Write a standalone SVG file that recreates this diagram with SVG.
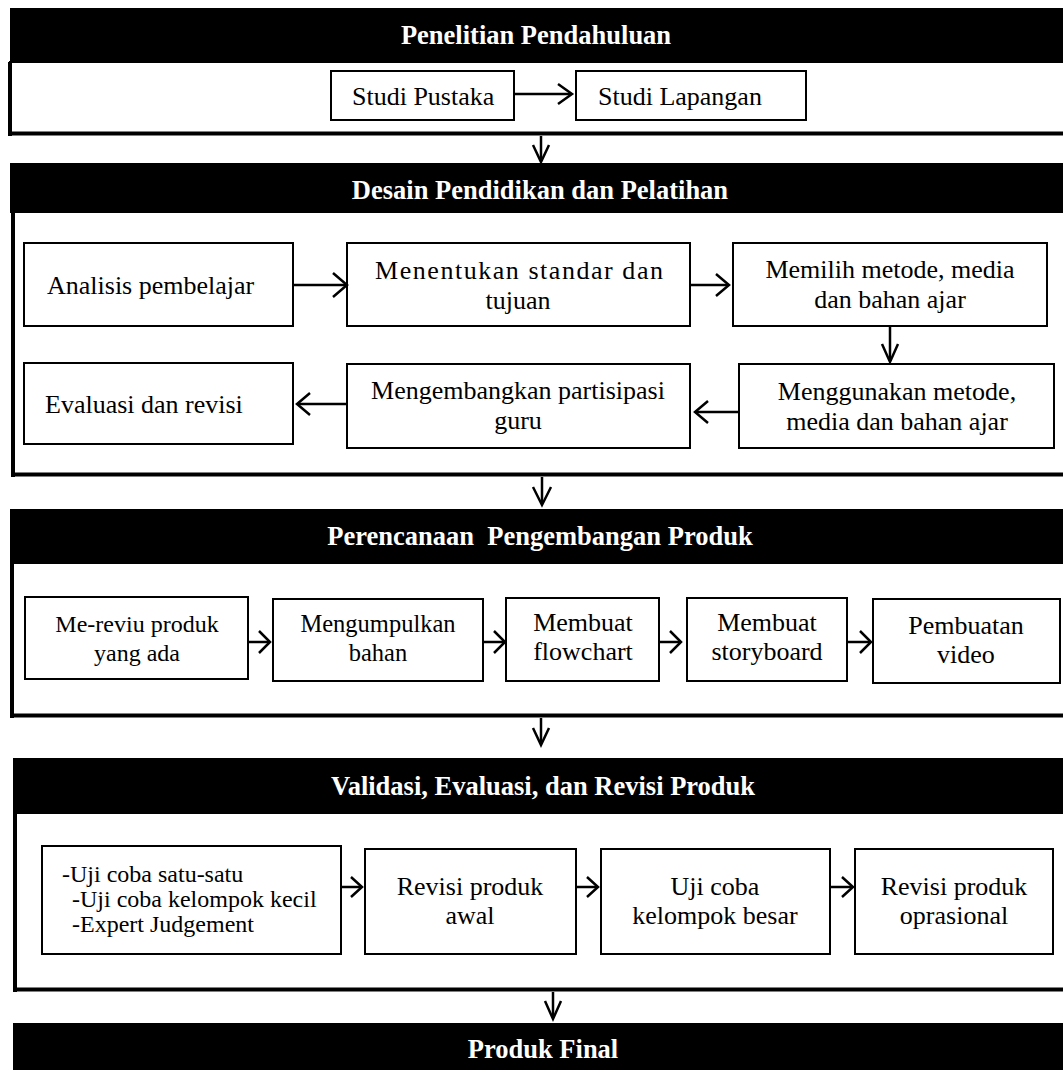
<svg xmlns="http://www.w3.org/2000/svg" width="1063" height="1070" viewBox="0 0 1063 1070">
<style>
.hd{fill:#000}
.body{fill:#fff;stroke:#000;stroke-width:2}
.thick{stroke:#000;stroke-width:4;fill:none}
.box{fill:#fff;stroke:#000;stroke-width:2}
.ht{font-family:"Liberation Serif","Times New Roman",serif;font-size:26.5px;font-weight:bold;fill:#fff;text-anchor:middle}
.t{font-family:"Liberation Serif","Times New Roman",serif;font-size:26px;fill:#000}
.c{text-anchor:middle}
.s24{font-size:24px}
.ln{stroke:#000;stroke-width:2.5;fill:none}
.ah{stroke:#000;stroke-width:2.5;fill:none;stroke-linejoin:miter}
</style>
<rect width="1063" height="1070" fill="#fff"/>

<!-- Section 1 -->
<g id="sec1">
<rect class="body" x="10" y="62" width="1070" height="72"/>
<line class="thick" x1="10" y1="62" x2="10" y2="136"/>
<line class="thick" x1="8" y1="133.5" x2="1063" y2="133.5"/>
<rect class="hd" x="10" y="8" width="1060" height="55"/>
<text class="ht" x="536" y="44">Penelitian Pendahuluan</text>
</g>
<g id="studi-pustaka">
<rect class="box" x="331" y="71" width="183" height="49"/>
<text class="t" x="352" y="105">Studi Pustaka</text>
</g>
<g id="studi-lapangan">
<rect class="box" x="576" y="71" width="230" height="49"/>
<text class="t" x="598" y="105">Studi Lapangan</text>
</g>

<!-- Section 2 -->
<g id="sec2">
<rect class="body" x="12" y="212" width="1070" height="263"/>
<line class="thick" x1="13" y1="212" x2="13" y2="477"/>
<line class="thick" x1="11" y1="474.5" x2="1063" y2="474.5"/>
<rect class="hd" x="10" y="163" width="1060" height="50"/>
<text class="ht" x="540" y="199">Desain Pendidikan dan Pelatihan</text>
</g>
<g id="analisis">
<rect class="box" x="24" y="243" width="269" height="83"/>
<text class="t" x="47" y="294">Analisis pembelajar</text>
</g>
<g id="menentukan">
<rect class="box" x="347" y="243" width="343" height="83"/>
<text class="t" x="375" y="279" textLength="288" lengthAdjust="spacing">Menentukan standar dan</text>
<text class="t c" x="518" y="309">tujuan</text>
</g>
<g id="memilih">
<rect class="box" x="733" y="243" width="314" height="83"/>
<text class="t c" x="890" y="278">Memilih metode, media</text>
<text class="t c" x="890" y="308">dan bahan ajar</text>
</g>
<g id="menggunakan">
<rect class="box" x="739" y="364" width="315" height="84"/>
<text class="t c" x="897" y="400">Menggunakan metode,</text>
<text class="t c" x="897" y="430">media dan bahan ajar</text>
</g>
<g id="mengembangkan">
<rect class="box" x="347" y="364" width="343" height="84"/>
<text class="t c" x="518" y="399">Mengembangkan partisipasi</text>
<text class="t c" x="518" y="429">guru</text>
</g>
<g id="evaluasi">
<rect class="box" x="24" y="363" width="269" height="81"/>
<text class="t" x="45" y="413">Evaluasi dan revisi</text>
</g>

<!-- Section 3 -->
<g id="sec3">
<rect class="body" x="12" y="563" width="1070" height="153"/>
<line class="thick" x1="12" y1="563" x2="12" y2="718"/>
<line class="thick" x1="10" y1="715.5" x2="1063" y2="715.5"/>
<rect class="hd" x="10" y="509" width="1060" height="55"/>
<text class="ht" x="540" y="545" xml:space="preserve">Perencanaan  Pengembangan Produk</text>
</g>
<g id="mereviu">
<rect class="box" x="25" y="597" width="223" height="82"/>
<text class="t c s24" x="137" y="632">Me-reviu produk</text>
<text class="t c s24" x="137" y="661">yang ada</text>
</g>
<g id="mengumpulkan">
<rect class="box" x="273" y="599" width="210" height="82"/>
<text class="t c" x="378" y="632" style="font-size:24.5px">Mengumpulkan</text>
<text class="t c" x="378" y="661" style="font-size:24.5px">bahan</text>
</g>
<g id="flowchart">
<rect class="box" x="506" y="598" width="153" height="83"/>
<text class="t c" x="583" y="631">Membuat</text>
<text class="t c" x="583" y="660">flowchart</text>
</g>
<g id="storyboard">
<rect class="box" x="687" y="598" width="160" height="83"/>
<text class="t c" x="767" y="631">Membuat</text>
<text class="t c" x="767" y="660">storyboard</text>
</g>
<g id="pembuatan">
<rect class="box" x="873" y="599" width="187" height="84"/>
<text class="t c" x="966" y="634">Pembuatan</text>
<text class="t c" x="966" y="663">video</text>
</g>

<!-- Section 4 -->
<g id="sec4">
<rect class="body" x="14" y="813" width="1070" height="176"/>
<line class="thick" x1="15" y1="813" x2="15" y2="992"/>
<line class="thick" x1="13" y1="989.5" x2="1063" y2="989.5"/>
<rect class="hd" x="13" y="758" width="1060" height="56"/>
<text class="ht" x="543" y="795">Validasi, Evaluasi, dan Revisi Produk</text>
</g>
<g id="ujicoba-list">
<rect class="box" x="42" y="846" width="299" height="108"/>
<text class="t s24" x="62" y="882">-Uji coba satu-satu</text>
<text class="t s24" x="72" y="907">-Uji coba kelompok kecil</text>
<text class="t s24" x="72" y="932">-Expert Judgement</text>
</g>
<g id="revisi-awal">
<rect class="box" x="365" y="849" width="211" height="105"/>
<text class="t c" x="470" y="895">Revisi produk</text>
<text class="t c" x="470" y="924">awal</text>
</g>
<g id="uji-besar">
<rect class="box" x="601" y="849" width="229" height="105"/>
<text class="t c" x="715" y="895">Uji coba</text>
<text class="t c" x="715" y="924">kelompok besar</text>
</g>
<g id="revisi-oprasional">
<rect class="box" x="855" y="849" width="198" height="105"/>
<text class="t c" x="954" y="895">Revisi produk</text>
<text class="t c" x="954" y="924">oprasional</text>
</g>

<!-- Section 5 -->
<g id="sec5">
<rect class="hd" x="13" y="1023" width="1060" height="50"/>
<text class="ht" x="543" y="1058">Produk Final</text>
</g>

<!-- Connectors -->
<g id="connectors">
<line class="ln" x1="514" y1="94" x2="571" y2="94"/>
<polyline class="ah" points="558,84 572,94 558,104"/>

<line class="ln" x1="541" y1="136" x2="541" y2="161"/>
<polyline class="ah" points="533,145 541,162 549,145"/>

<line class="ln" x1="293" y1="285" x2="346" y2="285"/>
<polyline class="ah" points="333,273 347,285 333,297"/>
<line class="ln" x1="690" y1="285" x2="728" y2="285"/>
<polyline class="ah" points="716,274 729,285 716,296"/>
<line class="ln" x1="890" y1="326" x2="890" y2="361"/>
<polyline class="ah" points="882,344 890,362 898,344"/>
<line class="ln" x1="739" y1="412" x2="696" y2="412"/>
<polyline class="ah" points="708,401 695,412 708,423"/>
<line class="ln" x1="347" y1="404" x2="298" y2="404"/>
<polyline class="ah" points="310,393 297,404 310,415"/>

<line class="ln" x1="542" y1="477" x2="542" y2="504"/>
<polyline class="ah" points="533,487 542,505 551,487"/>

<line class="ln" x1="248" y1="642" x2="269" y2="642"/>
<polyline class="ah" points="259,631 270,642 259,653"/>
<line class="ln" x1="483" y1="642" x2="504" y2="642"/>
<polyline class="ah" points="494,631 505,642 494,653"/>
<line class="ln" x1="659" y1="642" x2="680" y2="642"/>
<polyline class="ah" points="670,631 681,642 670,653"/>
<line class="ln" x1="847" y1="642" x2="870" y2="642"/>
<polyline class="ah" points="860,631 871,642 860,653"/>

<line class="ln" x1="541" y1="718" x2="541" y2="744"/>
<polyline class="ah" points="533,728 541,745 549,728"/>

<line class="ln" x1="341" y1="887" x2="361" y2="887"/>
<polyline class="ah" points="351,877 362,887 351,897"/>
<line class="ln" x1="576" y1="887" x2="597" y2="887"/>
<polyline class="ah" points="587,877 598,887 587,897"/>
<line class="ln" x1="830" y1="887" x2="852" y2="887"/>
<polyline class="ah" points="842,877 853,887 842,897"/>

<line class="ln" x1="553" y1="992" x2="553" y2="1018"/>
<polyline class="ah" points="545,1001 553,1019 561,1001"/>
</g>
</svg>
